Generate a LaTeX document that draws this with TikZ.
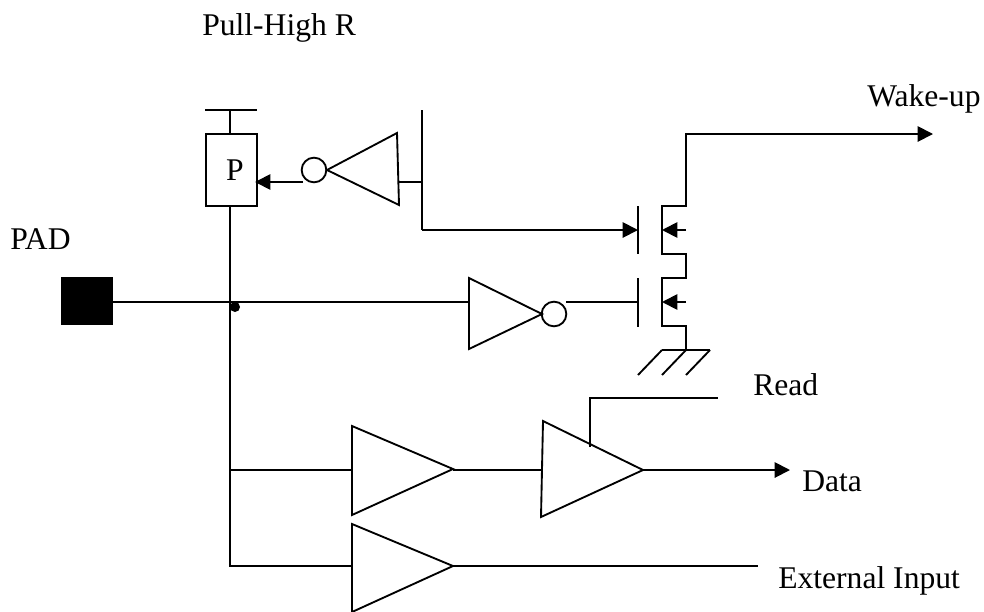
\documentclass[tikz,border=0pt]{standalone}
\usepackage{fontspec}
\setmainfont{Liberation Serif}
\usetikzlibrary{arrows.meta}
\tikzset{
  wire/.style={line width=1.4pt, line join=miter},
  tip/.style={wire, -{Triangle[length=11.5pt,width=11.5pt]}},
  lbl/.style={inner sep=0pt, anchor=base west, font=\fontsize{23.7pt}{26pt}\selectfont},
}
\begin{document}
\begin{tikzpicture}[x=0.75pt,y=-0.75pt]
\useasboundingbox (0,0) rectangle (984,611);
\coordinate (vddL) at (205,110); \coordinate (vddR) at (257,110); \coordinate (vddM) at (230,110);
\node[wire,draw,minimum width=38.25pt,minimum height=54pt,inner sep=0pt,font=\fontsize{23.7pt}{26pt}\selectfont] (P) at (231.5,170) {\kern5pt P};
\node[fill=black,minimum width=39pt,minimum height=36pt,inner sep=0pt] (pad) at (87,301) {};
\coordinate (jn) at (230,302);
\coordinate (bus1) at (230,470);
\coordinate (bus2) at (230,566);
\node[circle,fill=black,inner sep=0pt,minimum size=7.5pt] (dot) at (235,307) {};
\draw[wire] (vddL) -- (vddR);
\draw[wire] (vddM) -- (230,134);
\draw[wire] (230,206) -- (230,566) -- (352,566);
\draw[wire] (bus1) -- (352,470);
\draw[wire] (113,302) -- (469,302);
% inverter 1
\coordinate (i1a) at (327,170); \coordinate (i1b) at (397,133); \coordinate (i1c) at (399,205);
\draw[wire] (i1a) -- (i1b) -- (i1c) -- cycle;
\node[wire,draw,circle,minimum size=18.5pt,inner sep=0pt] (c1) at (314,170) {};
\coordinate (i1in) at (398,182);
\coordinate (railT) at (422,110); \coordinate (railM) at (422,182); \coordinate (railB) at (422,230);
\draw[wire] (railT) -- (railB);
\draw[wire] (railM) -- (i1in);
\draw[tip] (303,182) -- (255,182);
% transistor gates
\coordinate (g1) at (638,230); \coordinate (g2) at (638,302);
\draw[wire] (638,206) -- (638,254);
\draw[wire] (638,278) -- (638,327);
\draw[tip] (railB) -- (g1);
% channel
\draw[wire] (918,134) -- (686,134) -- (686,206) -- (662,206) -- (662,254) -- (686,254) -- (686,278) -- (662,278) -- (662,326) -- (686,326) -- (686,350);
\draw[tip] (686,230) -- (662,230);
\draw[tip] (686,302) -- (662,302);
\draw[tip] (900,134) -- (933,134);
% ground
\draw[wire] (662,350) -- (710,350);
\draw[wire] (662,350) -- (638,375);
\draw[wire] (686,350) -- (662,375);
\draw[wire] (710,350) -- (686,375);
% inverter 2
\coordinate (i2a) at (469,278); \coordinate (i2b) at (542,314); \coordinate (i2c) at (469,349);
\draw[wire] (i2a) -- (i2b) -- (i2c) -- cycle;
\node[wire,draw,circle,minimum size=18.5pt,inner sep=0pt] (c2) at (554,314) {};
\draw[wire] (566,302) -- (g2);
% buffers
\coordinate (b1a) at (352,426); \coordinate (b1b) at (453,469); \coordinate (b1c) at (352,515);
\draw[wire] (b1a) -- (b1b) -- (b1c) -- cycle;
\coordinate (b2a) at (543,421); \coordinate (b2b) at (643,470); \coordinate (b2c) at (541,517);
\draw[wire] (b2a) -- (b2b) -- (b2c) -- cycle;
\coordinate (b3a) at (352,524); \coordinate (b3b) at (453,566); \coordinate (b3c) at (352,612);
\draw[wire] (b3a) -- (b3b) -- (b3c) -- cycle;
\draw[wire] (b1b |- bus1) -- (541,470);
\draw[tip] (b2b) -- (790,470);
\draw[wire] (b3b) -- (758,566);
\draw[wire] (590,447) -- (590,398) -- (718,398);
% labels
\node[lbl] (tPull) at (202,35) {Pull-High R};
\node[lbl] (tPad) at (10,249) {PAD};
\node[lbl] (tWake) at (867,106) {Wake-up};
\node[lbl] (tRead) at (753,395) {Read};
\node[lbl] (tData) at (802,491) {Data};
\node[lbl] (tExt) at (778,588) {External Input};
\end{tikzpicture}
\end{document}
